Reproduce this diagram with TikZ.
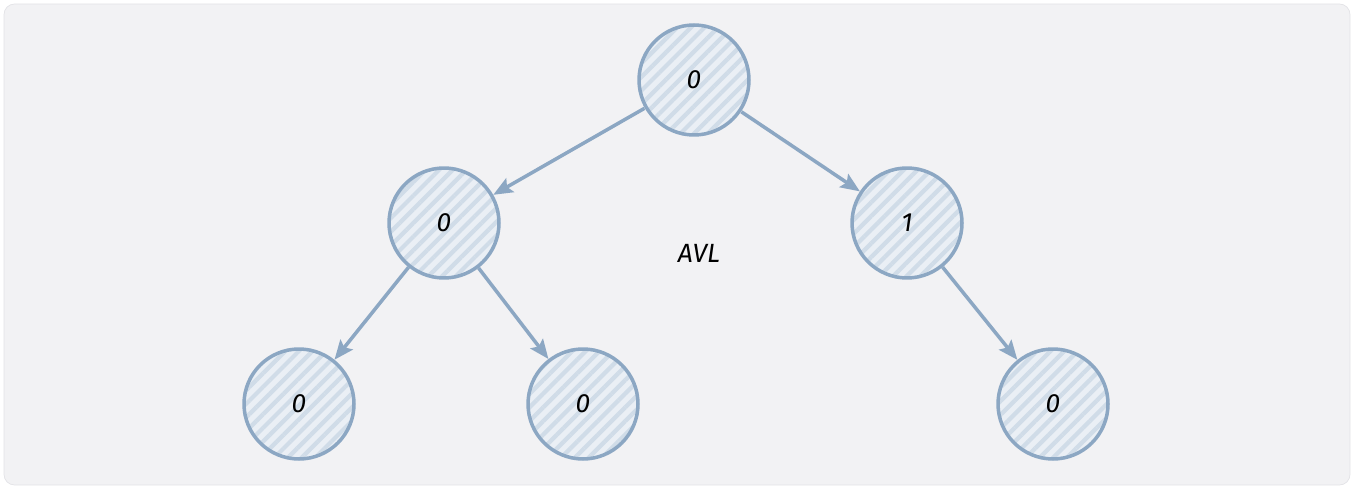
\documentclass[tikz,border=0pt]{standalone}
\usepackage{fontspec}
\setmainfont{Fira Sans}
\usetikzlibrary{arrows.meta,patterns.meta}
\definecolor{bgfill}{HTML}{F2F2F4}
\definecolor{bgline}{HTML}{E2E2E6}
\definecolor{treeline}{HTML}{8CA7C3}
\definecolor{hatchfill}{HTML}{EAEFF5}
\definecolor{hatchline}{HTML}{D0DCE8}

\begin{document}
\begin{tikzpicture}[x=0.02cm,y=-0.02cm,>={Stealth[length=11pt,width=9pt,inset=2pt]},
  avlnode/.style={circle,draw=treeline,line width=2pt,minimum size=2.2cm,inner sep=0pt,
    preaction={fill=hatchfill},
    pattern={Lines[angle=45,distance=5.5pt,line width=2.4pt]},pattern color=hatchline,
    font=\fontsize{15}{18}\selectfont\itshape,text=black},
  avledge/.style={->,draw=treeline,line width=2pt}]
\useasboundingbox (0,0) rectangle (1354,486);
\draw[fill=bgfill,draw=bgline,rounded corners=6pt] (4,4) rectangle (1350,485);
\node[avlnode] (root) at (694,80) {0};
\node[avlnode] (l) at (444,223) {0};
\node[avlnode] (r) at (907,223) {1};
\node[avlnode] (ll) at (299,404) {0};
\node[avlnode] (lr) at (583,404) {0};
\node[avlnode] (rl) at (1053,404) {0};
\node[font=\fontsize{15}{18}\selectfont\itshape] (title) at (699,253) {AVL};
\draw[avledge] (root) -- (l);
\draw[avledge] (root) -- (r);
\draw[avledge] (l) -- (ll);
\draw[avledge] (l) -- (lr);
\draw[avledge] (r) -- (rl);
\end{tikzpicture}
\end{document}
